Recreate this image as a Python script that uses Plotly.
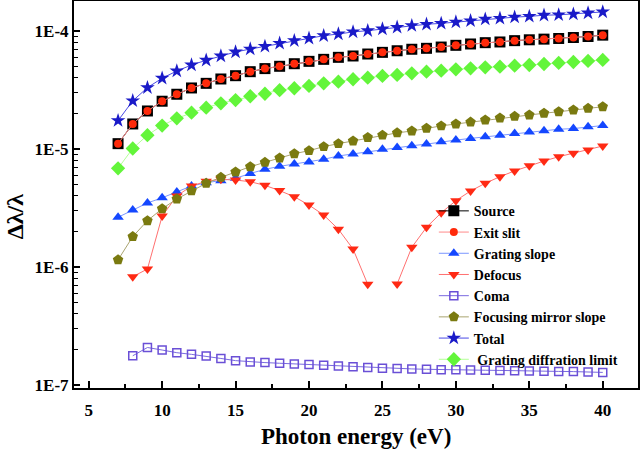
import plotly.graph_objects as go

# Photon energy (eV)
energy = [7, 8, 9, 10, 11, 12, 13, 14, 15, 16, 17, 18, 19, 20, 21, 22, 23, 24,
          25, 26, 27, 28, 29, 30, 31, 32, 33, 34, 35, 36, 37, 38, 39, 40]
energy_from8 = energy[1:]

SCALE = 1e-6  # values below are in units of 1E-6

source = [11.1, 16.3, 21.0, 25.4, 29.1, 32.9, 36.0, 39.2, 41.8, 45.2, 48.0, 50.2, 52.8, 55.3,
          57.5, 59.8, 61.4, 63.8, 65.9, 68.0, 70.0, 71.3, 73.1, 75.6, 77.6, 79.6, 80.7, 82.8,
          84.2, 85.3, 86.4, 88.0, 89.8, 92.2]
exit_slit = [11.1, 16.3, 21.0, 25.4, 29.1, 32.9, 36.0, 39.2, 41.8, 45.2, 48.0, 50.2, 52.8, 55.3,
             57.5, 59.8, 61.4, 63.8, 65.9, 68.0, 70.0, 71.3, 73.1, 75.6, 77.6, 79.6, 80.7, 82.8,
             84.2, 85.3, 86.4, 88.0, 89.8, 92.2]
grating_slope = [2.64, 3.04, 3.49, 3.86, 4.32, 4.86, 5.18, 5.38, 5.65, 6.2, 6.73, 7.13, 7.46, 7.75,
                 8.18, 8.73, 9.08, 9.49, 9.94, 10.3, 10.66, 11.0, 11.5, 11.9, 12.3, 12.7, 13.1,
                 13.5, 13.9, 14.3, 14.7, 14.9, 15.4, 15.8]
# defocus starts at 8 eV; no point at 25 eV
defocus = [0.828, 0.962, 2.70, 4.0, 4.86, 5.33, 5.53, 5.46, 5.28, 4.92, 4.44, 3.94, 3.35,
           2.76, 2.09, 1.42, 0.713, None, 0.718, 1.47, 2.17, 2.88, 3.65, 4.41, 5.12, 5.83,
           6.52, 7.21, 7.91, 8.60, 9.20, 9.82, 10.6]
# coma starts at 8 eV
coma = [0.177, 0.208, 0.198, 0.188, 0.182, 0.176, 0.168, 0.161, 0.157, 0.155, 0.153, 0.151,
        0.149, 0.147, 0.145, 0.143, 0.141, 0.139, 0.138, 0.137, 0.136, 0.135, 0.1345, 0.134,
        0.1335, 0.133, 0.132, 0.1315, 0.131, 0.1305, 0.130, 0.129, 0.128]
focusing_mirror = [1.15, 1.81, 2.47, 3.12, 3.77, 4.43, 5.12, 5.75, 6.38, 7.08, 7.71, 8.39, 9.12,
                   9.68, 10.47, 11.1, 11.7, 12.5, 13.1, 13.7, 14.2, 15.0, 15.7, 16.3, 16.9,
                   17.6, 18.3, 18.9, 19.4, 20.1, 20.7, 21.4, 22.1, 22.8]
total = [17.4, 25.6, 33.1, 39.8, 45.8, 51.5, 56.5, 61.4, 66.4, 70.3, 74.1, 78.6, 82.8, 86.7,
         91.2, 94.3, 98.2, 100.6, 104, 107.5, 111, 114, 116, 119, 122, 126, 128, 131, 133,
         136, 137, 139, 142, 145]
grating_diffraction = [6.86, 10.1, 13.1, 15.8, 18.2, 20.3, 22.4, 24.4, 26.0, 28.0, 29.4, 31.5,
                       32.7, 34.2, 36.0, 37.2, 39.0, 40.2, 41.6, 42.4, 43.8, 45.2, 46.1, 47.3,
                       48.3, 49.2, 49.8, 50.8, 51.5, 52.5, 53.6, 54.6, 55.7, 56.8]

y_tickvals = [1e-7, 1e-6, 1e-5, 1e-4]
y_ticktext = ["1E-7", "1E-6", "1E-5", "1E-4"]


def sc(vals):
    return [None if v is None else v * SCALE for v in vals]


FONT = "Liberation Serif"

series = [
    ("Source", energy, source, dict(symbol="square", size=11, color="#000000"), "#000000"),
    ("Exit slit", energy, exit_slit, dict(symbol="circle", size=8, color="#ff2a0a"), "#ff8a8a"),
    ("Grating slope", energy, grating_slope, dict(symbol="triangle-up", size=10, color="#1447ff"), "#7b96ff"),
    ("Defocus", energy_from8, defocus, dict(symbol="triangle-down", size=10, color="#ff2a14"), "#ff7070"),
    ("Coma", energy_from8, coma, dict(symbol="square-open", size=8, color="#6a4fd6",
                                      line=dict(width=1.5, color="#6a4fd6")), "#7a6ae0"),
    ("Focusing mirror slope", energy, focusing_mirror, dict(symbol="pentagon", size=11, color="#7a7a10"), "#aaa470"),
    ("Total", energy, total, dict(symbol="star", size=11, color="#1a1ac8"), "#4a4ae6"),
    ("\u00a0Grating diffration limit", energy, grating_diffraction,
     dict(symbol="diamond", size=11, color="#63f53a"), "#b4ff98"),
]

fig = go.Figure()
for name, xs, ys, mk, lc in series:
    fig.add_trace(go.Scatter(x=xs, y=sc(ys), name=name, mode="lines+markers",
                             marker=mk, line=dict(color=lc, width=1), connectgaps=False))

minor_y = []
for d in [1e-7, 1e-6, 1e-5, 1e-4]:
    for m in range(2, 10):
        minor_y.append(m * d)

fig.update_layout(
    width=640, height=450,
    margin=dict(l=74, r=2, t=1, b=62, autoexpand=False),
    paper_bgcolor="white", plot_bgcolor="white",
    font=dict(family=FONT, color="black"),
    showlegend=True,
    legend=dict(x=0.638, y=0.498, xanchor="left", yanchor="top",
                bgcolor="rgba(0,0,0,0)", borderwidth=0,
                font=dict(family=FONT, size=14, color="black", weight="bold"),
                tracegroupgap=0),
)
fig.update_xaxes(
    range=[4.0, 42.4], dtick=5, tick0=0, automargin=False,
    showline=True, linewidth=2, linecolor="black", mirror=True,
    ticks="inside", ticklen=7, tickwidth=1.5, tickcolor="black",
    showgrid=False, zeroline=False, ticklabelstandoff=6,
    tickfont=dict(family=FONT, size=17, color="black", weight="bold"),
    minor=dict(dtick=2.5, ticks="inside", ticklen=4, tickwidth=1.5, tickcolor="black", showgrid=False),
)
fig.update_yaxes(
    type="log", range=[-7.025, -3.746], automargin=False,
    tickmode="array", tickvals=y_tickvals, ticktext=y_ticktext,
    showline=True, linewidth=2, linecolor="black", mirror=True,
    ticks="inside", ticklen=6, tickwidth=1.5, tickcolor="black",
    showgrid=False, zeroline=False,
    tickfont=dict(family=FONT, size=17, color="black", weight="bold"),
    minor=dict(tickmode="array", tickvals=minor_y, ticks="inside", ticklen=4,
               tickwidth=1.2, tickcolor="black", showgrid=False),
)
fig.add_annotation(text="Photon energy (eV)", xref="paper", yref="paper",
                   x=0.5, y=-0.126, xanchor="center", yanchor="middle", showarrow=False,
                   font=dict(family=FONT, size=23, color="black", weight="bold"))
fig.add_annotation(text="\u0394\u03bb/\u03bb", xref="paper", yref="paper",
                   x=-0.1055, y=0.445, xanchor="center", yanchor="middle", showarrow=False,
                   textangle=-90,
                   font=dict(family=FONT, size=24, color="black", weight="bold"))

fig.write_html("out.html", config={"displayModeBar": False},
               post_script="document.body.style.margin='0';document.body.style.overflow='hidden';")
